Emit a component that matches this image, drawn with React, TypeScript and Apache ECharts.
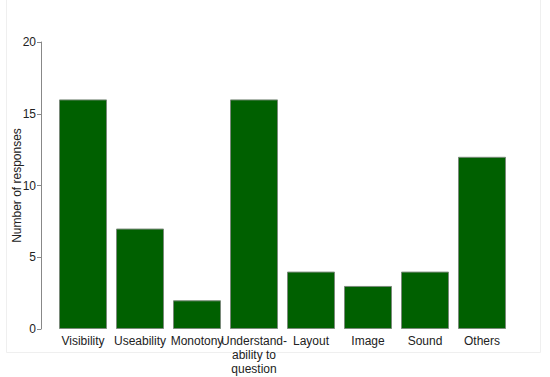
import React, { useEffect, useRef } from "react";
import * as echarts from "echarts";

const categories = [
  "Visibility",
  "Useability",
  "Monotony",
  "Understand-\nability to\nquestion",
  "Layout",
  "Image",
  "Sound",
  "Others",
];
const responses = [16, 7, 2, 16, 4, 3, 4, 12];
const yTicks = { min: 0, max: 20, interval: 5 };

export default function App() {
  const ref = useRef<HTMLDivElement>(null);
  useEffect(() => {
    document.body.style.margin = "0";
    const chart = echarts.init(ref.current!, null, { renderer: "svg" });
    chart.setOption({
      animation: false,
      backgroundColor: "#ffffff",
      grid: {
        left: 54.5,
        right: 39.5,
        top: 42,
        bottom: 48,
        containLabel: false,
        outerBoundsMode: "none",
      },
      graphic: [
        {
          type: "rect",
          silent: true,
          z: -1,
          shape: { x: 6.5, y: -20, width: 534, height: 372.5 },
          style: { fill: "none", stroke: "#efefef", lineWidth: 1 },
        },
      ],
      xAxis: {
        type: "category",
        data: categories,
        axisLine: { show: false },
        axisTick: { show: false },
        axisLabel: {
          color: "#222",
          fontFamily: "Liberation Sans, Arial, sans-serif",
          fontSize: 12,
          margin: 5,
          lineHeight: 14,
          interval: 0,
        },
      },
      yAxis: {
        type: "value",
        min: yTicks.min,
        max: yTicks.max,
        interval: yTicks.interval,
        offset: 13.5,
        name: "Number of responses",
        nameLocation: "middle",
        nameGap: 18,
        nameMoveOverlap: false,
        nameTextStyle: {
          color: "#222",
          fontFamily: "Liberation Sans, Arial, sans-serif",
          fontSize: 12,
        },
        axisLine: { show: true, lineStyle: { color: "#888", width: 1 } },
        axisTick: { show: true, length: 4, lineStyle: { color: "#888" } },
        splitLine: { show: false },
        axisLabel: {
          color: "#222",
          fontFamily: "Liberation Sans, Arial, sans-serif",
          fontSize: 12,
          margin: 5,
        },
      },
      series: [
        {
          type: "bar",
          data: responses,
          barWidth: 48,
          itemStyle: { color: "#006000", borderColor: "#7a8a7a", borderWidth: 1 },
        },
      ],
    });
    return () => chart.dispose();
  }, []);
  return <div ref={ref} style={{ width: 550, height: 377 }} />;
}
